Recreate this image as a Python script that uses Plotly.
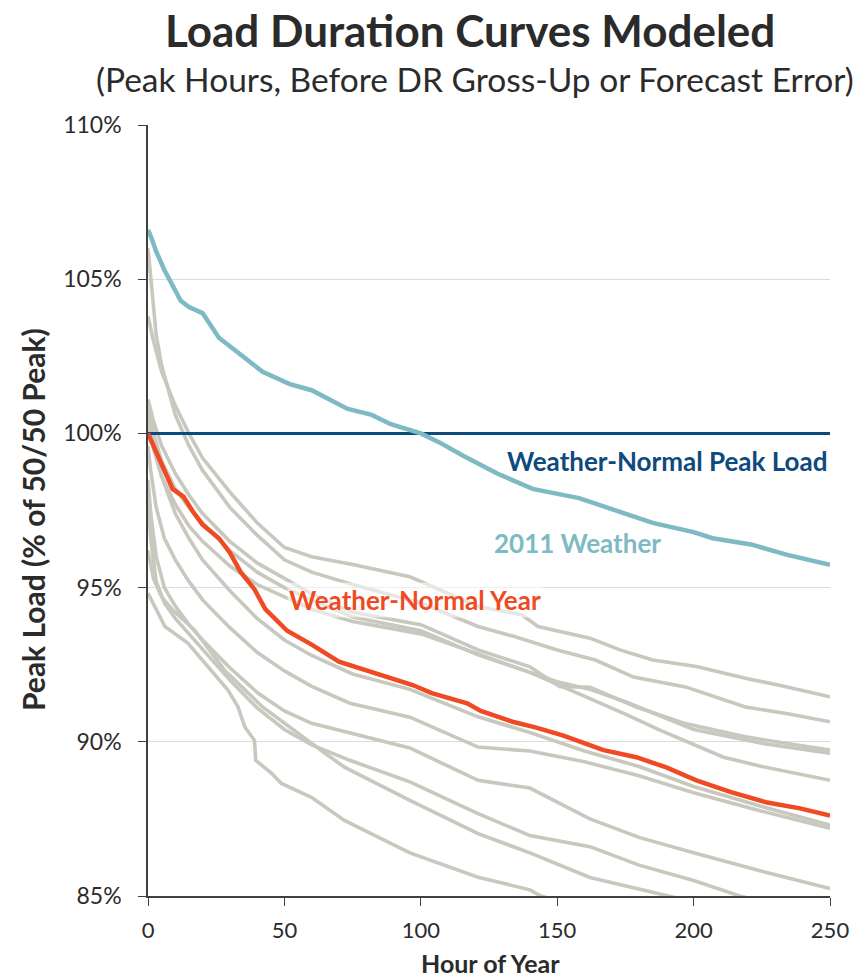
import plotly.graph_objects as go

# ---- data ----
peak_hours = [0, 250]
peak_load = [100, 100]

w2011_hours = [0, 1, 3, 6, 9, 12, 15, 20, 26, 33, 42, 52, 60, 73, 82, 89, 100, 107, 115, 128, 141, 158, 165, 185, 200, 207, 221, 234, 250]
w2011_load = [106.6, 106.4, 105.9, 105.3, 104.8, 104.3, 104.1, 103.9, 103.1, 102.6, 102.0, 101.6, 101.4, 100.8, 100.6, 100.3, 100.0, 99.7, 99.3, 98.7, 98.2, 97.9, 97.7, 97.1, 96.8, 96.6, 96.4, 96.07, 95.74]

wn_hours = [0, 2, 4, 9, 13, 16.5, 20, 26, 30, 34, 39, 43, 51, 60, 70, 85, 97, 104, 117, 122, 134, 142, 152, 167, 179, 190, 201, 214, 227, 239, 250]
wn_load = [100.0, 99.6, 99.15, 98.2, 97.95, 97.46, 97.04, 96.6, 96.13, 95.5, 94.95, 94.3, 93.6, 93.15, 92.6, 92.16, 91.84, 91.58, 91.25, 91.0, 90.64, 90.47, 90.21, 89.73, 89.5, 89.17, 88.75, 88.36, 88.03, 87.84, 87.61]

g1_hours = [0, 2, 5, 10, 15, 20, 30, 40, 50, 60, 75, 96, 121, 137, 143, 152, 162, 173, 185, 201, 219, 231, 250]
g1_load = [103.8, 103.0, 102.0, 100.9, 100.0, 99.2, 98.1, 97.1, 96.3, 96.0, 95.75, 95.35, 94.39, 94.12, 93.74, 93.57, 93.36, 92.98, 92.65, 92.44, 92.06, 91.84, 91.46]

g2_hours = [0, 1, 2, 3, 5, 10, 15, 20, 30, 40, 50, 60, 75, 100, 121, 134, 150, 164, 178, 197, 219, 235, 250]
g2_load = [106.0, 105.0, 104.0, 103.2, 102.2, 100.6, 99.6, 98.8, 97.6, 96.7, 95.9, 95.5, 95.1, 94.5, 93.74, 93.42, 92.98, 92.65, 92.1, 91.78, 91.13, 90.9, 90.65]

g3_hours = [0, 2, 5, 10, 15, 20, 30, 40, 50, 60, 75, 100, 121, 140, 151, 162, 179, 197, 219, 235, 250]
g3_load = [101.1, 100.4, 99.6, 98.7, 98.0, 97.4, 96.5, 95.8, 95.3, 94.8, 94.2, 93.8, 92.98, 92.43, 91.79, 91.77, 91.13, 90.59, 90.16, 89.95, 89.73]

g4_hours = [0, 2, 5, 10, 15, 20, 30, 40, 50, 60, 75, 100, 121, 140, 150, 162, 175, 200, 225, 250]
g4_load = [100.9, 100.0, 99.1, 98.2, 97.6, 97.1, 96.2, 95.5, 95.0, 94.6, 94.05, 93.6, 92.82, 92.26, 91.95, 91.7, 91.3, 90.4, 89.95, 89.63]

g5_hours = [0, 2, 5, 10, 15, 20, 30, 40, 50, 60, 75, 100, 121, 140, 162, 175, 187, 200, 211, 225, 250]
g5_load = [100.4, 99.5, 98.6, 97.7, 97.0, 96.5, 95.7, 95.1, 94.7, 94.3, 93.9, 93.5, 92.85, 92.25, 91.4, 90.9, 90.4, 89.9, 89.5, 89.2, 88.75]

g6_hours = [0, 2, 5, 10, 15, 20, 30, 40, 50, 60, 75, 96, 121, 140, 160, 180, 200, 225, 250]
g6_load = [100.6, 99.6, 98.6, 97.4, 96.6, 95.9, 94.9, 94.0, 93.3, 92.8, 92.2, 91.7, 90.81, 90.3, 89.7, 89.2, 88.55, 87.9, 87.3]

g7_hours = [0, 1, 3, 6, 10, 15, 20, 30, 40, 50, 60, 74, 96, 121, 140, 160, 180, 200, 225, 250]
g7_load = [99.6, 98.8, 97.6, 96.6, 95.9, 95.2, 94.6, 93.7, 92.9, 92.3, 91.8, 91.25, 90.8, 89.83, 89.7, 89.35, 88.9, 88.35, 87.75, 87.2]

g8_hours = [0, 1, 3, 6, 10, 15, 20, 30, 40, 50, 60, 74, 96, 121, 140, 162, 180, 200, 225, 250]
g8_load = [98.5, 97.4, 96.0, 95.0, 94.4, 93.8, 93.3, 92.4, 91.6, 91.0, 90.6, 90.3, 89.8, 88.75, 88.5, 87.5, 86.9, 86.4, 85.8, 85.24]

g9_hours = [0, 1, 3, 6, 10, 15, 20, 30, 40, 50, 60, 74, 96, 121, 140, 162, 180, 200, 217, 235]
g9_load = [97.8, 96.6, 95.2, 94.5, 94.0, 93.5, 93.0, 92.0, 91.1, 90.4, 89.9, 89.4, 88.7, 87.67, 86.96, 86.6, 86.0, 85.5, 85.0, 84.6]

g10_hours = [0, 2, 5, 9, 17, 28, 42, 50, 57, 65, 72, 96, 121, 140, 162, 191, 210]
g10_load = [96.2, 95.3, 94.7, 94.28, 93.63, 92.33, 91.13, 90.6, 90.16, 89.62, 89.18, 88.1, 87.02, 86.4, 85.6, 85.0, 84.6]

g11_hours = [0, 6.2, 14.6, 20.9, 29.3, 33, 35.5, 39, 39.5, 45.3, 48.9, 59.9, 72, 96, 121, 140, 144, 160]
g11_load = [94.82, 93.74, 93.2, 92.55, 91.68, 91.13, 90.48, 90.05, 89.4, 88.98, 88.65, 88.2, 87.45, 86.4, 85.61, 85.2, 85.0, 84.6]

gray_series = [
    (g1_hours, g1_load), (g2_hours, g2_load), (g3_hours, g3_load),
    (g4_hours, g4_load), (g5_hours, g5_load), (g6_hours, g6_load),
    (g7_hours, g7_load), (g8_hours, g8_load), (g9_hours, g9_load),
    (g10_hours, g10_load), (g11_hours, g11_load),
]

x_ticks = [0, 50, 100, 150, 200, 250]
y_ticks = [85, 90, 95, 100, 105, 110]
y_tick_labels = ["85%", "90%", "95%", "100%", "105%", "110%"]

FONT = "Lato, 'Open Sans', sans-serif"
INK = "#2b2b2b"
GRAY = "#c8c8be"
TEAL = "#7dbac3"
RED = "#ef4a24"
NAVY = "#0d4a7e"

fig = go.Figure()
for hs, vs in gray_series:
    fig.add_trace(go.Scatter(x=hs, y=vs, mode="lines",
                             line=dict(color=GRAY, width=3.6), hoverinfo="skip"))
fig.add_trace(go.Scatter(x=peak_hours, y=peak_load, mode="lines",
                         line=dict(color=NAVY, width=3)))
fig.add_trace(go.Scatter(x=w2011_hours, y=w2011_load, mode="lines",
                         line=dict(color=TEAL, width=4.5)))
fig.add_trace(go.Scatter(x=wn_hours, y=wn_load, mode="lines",
                         line=dict(color=RED, width=4.5)))

fig.update_layout(
    width=867, height=978,
    margin=dict(l=148, r=37, t=125, b=82),
    paper_bgcolor="white", plot_bgcolor="white",
    showlegend=False,
    font=dict(family=FONT, color=INK, size=20),
)
fig.update_xaxes(range=[0, 250], tickvals=x_ticks, showgrid=False,
                 showline=True, linecolor="#404040", linewidth=1.5,
                 ticks="outside", ticklen=8, tickcolor="#404040",
                 ticklabelstandoff=6,
                 tickfont=dict(size=22, color=INK), zeroline=False)
fig.update_yaxes(range=[85, 110], tickvals=y_ticks, ticktext=y_tick_labels,
                 showgrid=True, gridcolor="#dcdcdc", gridwidth=1,
                 showline=True, linecolor="#404040", linewidth=1.5,
                 ticks="outside", ticklen=8, tickcolor="#404040",
                 ticklabelstandoff=12,
                 tickfont=dict(size=23, color=INK), zeroline=False)

PW, PH = 682.0, 771.0
def px(X):
    return (X - 148) / PW
def py(Y):
    return (896 - Y) / PH

ann = [
    dict(text="<b>Load Duration Curves Modeled</b>", x=px(470), y=py(30),
         font=dict(size=44, color=INK)),
    dict(text="(Peak Hours, Before DR Gross-Up or Forecast Error)", x=px(475), y=py(79),
         font=dict(size=33.5, color=INK)),
    dict(text="<b>Peak Load (% of 50/50 Peak)</b>", x=px(33), y=py(520),
         textangle=-90, font=dict(size=30, color=INK)),
    dict(text="<b>Hour of Year</b>", x=px(490), y=py(963),
         font=dict(size=25, color=INK)),
]
for a in ann:
    fig.add_annotation(xref="paper", yref="paper", showarrow=False,
                       xanchor="center", yanchor="middle", **a)

fig.add_annotation(x=250, y=99.12, xref="x", yref="y", showarrow=False,
                   xanchor="right", yanchor="middle",
                   text="<b>Weather-Normal Peak Load</b>",
                   font=dict(size=26, color=NAVY))
fig.add_annotation(x=157.6, y=96.46, xref="x", yref="y", showarrow=False,
                   xanchor="center", yanchor="middle",
                   text="<b>2011 Weather</b>", font=dict(size=26, color=TEAL))
fig.add_annotation(x=98, y=94.6, xref="x", yref="y", showarrow=False,
                   xanchor="center", yanchor="middle",
                   text="<b>Weather-Normal Year</b>", font=dict(size=26, color=RED),
                   bgcolor="rgba(255,255,255,0.55)")

fig.write_html("out.html", config={"displayModeBar": False},
               post_script="document.body.style.margin='0';")
